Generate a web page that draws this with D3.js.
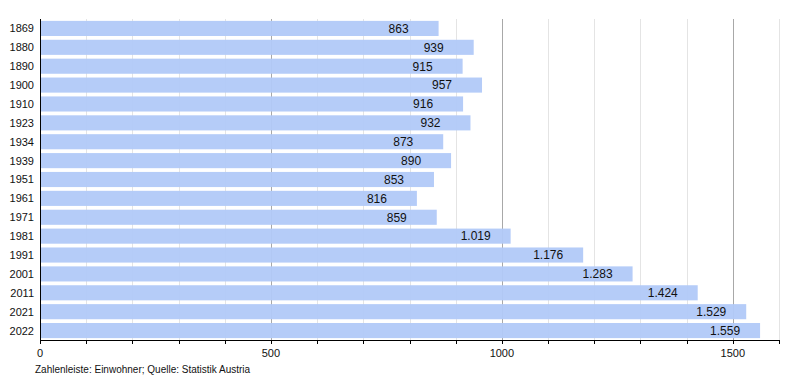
<!DOCTYPE html>
<html>
<head>
<meta charset="utf-8">
<script src="https://cdn.jsdelivr.net/npm/d3@7"></script>
<style>
  body { margin: 0; background: #fff; }
  svg { display: block; font-family: "Liberation Sans", Arial, sans-serif; }
</style>
</head>
<body>
<div id="chart"></div>
<script>
// data
const years = ["1869", "1880", "1890", "1900", "1910", "1923", "1934", "1939", "1951",
  "1961", "1971", "1981", "1991", "2001", "2011", "2021", "2022"];
const population = [863, 939, 915, 957, 916, 932, 873, 890, 853, 816, 859, 1019, 1176,
  1283, 1424, 1529, 1559];
const majorTicks = [0, 500, 1000, 1500];
const minorTicks = d3.range(0, 1601, 100);
const footer = "Zahlenleiste: Einwohner; Quelle: Statistik Austria";

const width = 800, height = 380;
const plotLeft = 40, plotRight = 779, plotTop = 19, plotBottom = 340;

const svg = d3.select("#chart").append("svg")
  .attr("width", width)
  .attr("height", height);

const x = d3.scaleLinear().domain([0, 1600]).range([plotLeft, plotRight]);
const y = d3.scaleBand().domain(years).range([plotTop, plotBottom]).paddingInner(0.2).paddingOuter(0.1);

const fmt = v => d3.format(",")(v).replace(",", ".");

/* grid */
svg.append("g").selectAll("line")
  .data(minorTicks.filter(d => d > 0))
  .join("line")
  .attr("x1", d => Math.round(x(d)) + 0.5).attr("x2", d => Math.round(x(d)) + 0.5)
  .attr("y1", plotTop).attr("y2", plotBottom)
  .attr("stroke", d => d % 500 === 0 ? "#a8a8a8" : "#e4e4e4")
  .attr("stroke-width", 1);

/* bars */
svg.append("g").selectAll("rect")
  .data(population)
  .join("rect")
  .attr("x", x(0))
  .attr("y", (d, i) => y(years[i]))
  .attr("width", d => x(d) - x(0))
  .attr("height", y.bandwidth())
  .attr("fill", "#b1c9f8")
  .attr("fill-opacity", 0.95);

/* value labels */
svg.append("g").selectAll("text")
  .data(population)
  .join("text")
  .attr("x", d => x(d) - 50)
  .attr("y", (d, i) => y(years[i]) + y.bandwidth() / 2)
  .attr("dy", "0.36em")
  .attr("font-size", 12)
  .attr("fill", "#111")
  .text(d => fmt(d));

/* year labels */
svg.append("g").selectAll("text")
  .data(years)
  .join("text")
  .attr("x", plotLeft - 6)
  .attr("y", d => y(d) + y.bandwidth() / 2)
  .attr("dy", "0.36em")
  .attr("text-anchor", "end")
  .attr("font-size", 11)
  .attr("fill", "#111")
  .text(d => d);

/* axes lines */
svg.append("line")
  .attr("x1", plotLeft + 0.5).attr("x2", plotLeft + 0.5)
  .attr("y1", plotTop).attr("y2", plotBottom)
  .attr("stroke", "#000");

svg.append("line")
  .attr("x1", plotLeft).attr("x2", plotRight)
  .attr("y1", plotBottom + 0.5).attr("y2", plotBottom + 0.5)
  .attr("stroke", "#000");

svg.append("g").selectAll("line")
  .data(minorTicks)
  .join("line")
  .attr("x1", d => Math.round(x(d)) + 0.5).attr("x2", d => Math.round(x(d)) + 0.5)
  .attr("y1", plotBottom).attr("y2", plotBottom + 4)
  .attr("stroke", "#000");

svg.append("g").selectAll("text")
  .data(majorTicks)
  .join("text")
  .attr("x", d => x(d))
  .attr("y", plotBottom + 17)
  .attr("text-anchor", "middle")
  .attr("font-size", 11)
  .attr("fill", "#111")
  .text(d => d);

svg.append("text")
  .attr("x", 35)
  .attr("y", 373)
  .attr("font-size", 10)
  .attr("fill", "#111")
  .text(footer);
</script>
</body>
</html>
